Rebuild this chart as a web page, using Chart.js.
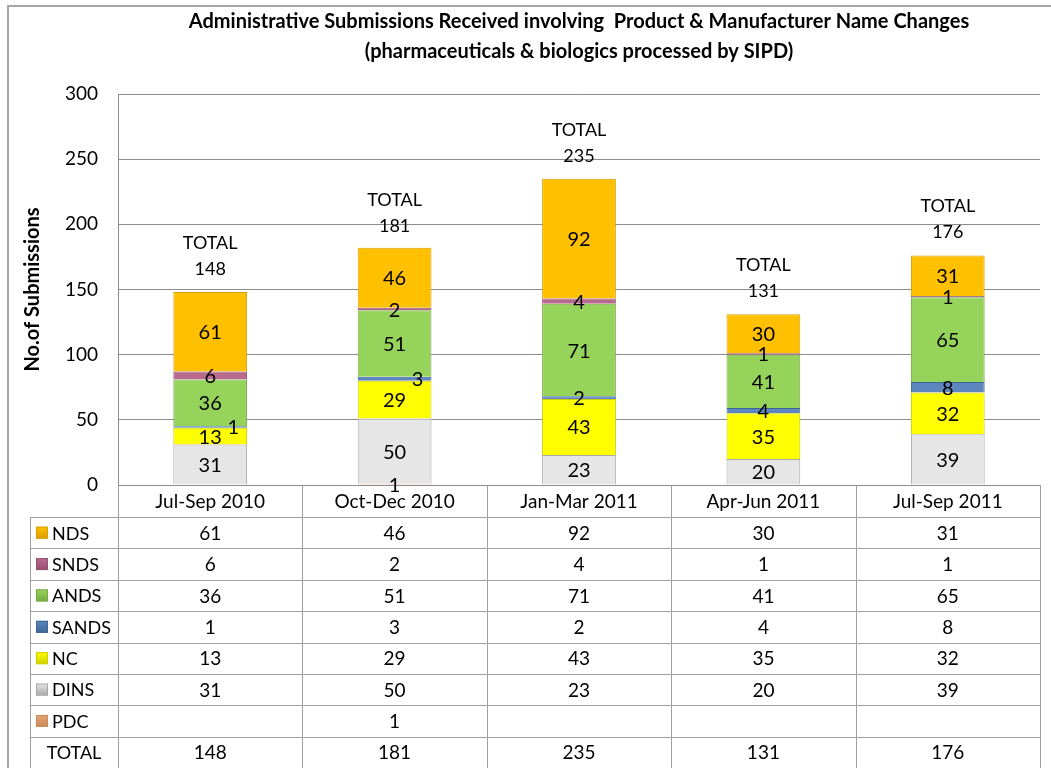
<!DOCTYPE html>
<html>
<head>
<meta charset="utf-8">
<script src="https://cdn.jsdelivr.net/npm/chart.js@4.4.1/dist/chart.umd.min.js"></script>
<style>
  html, body { margin: 0; padding: 0; background: #ffffff; }
  #wrap { width: 1051px; height: 768px; }
</style>
</head>
<body>
<div id="wrap"><canvas id="c" width="1051" height="768"></canvas></div>
<script>
// ---- data ----
const categories = ['Jul-Sep 2010', 'Oct-Dec 2010', 'Jan-Mar 2011', 'Apr-Jun 2011', 'Jul-Sep 2011'];
const pdc   = [null, 1, null, null, null];
const dins  = [31, 50, 23, 20, 39];
const nc    = [13, 29, 43, 35, 32];
const sands = [1, 3, 2, 4, 8];
const ands  = [36, 51, 71, 41, 65];
const snds  = [6, 2, 4, 1, 1];
const nds   = [61, 46, 92, 30, 31];
const totals = [148, 181, 235, 131, 176];
const yTickValues = [0, 50, 100, 150, 200, 250, 300];
const titleLines = ['Administrative Submissions Received involving  Product & Manufacturer Name Changes',
                    '(pharmaceuticals & biologics processed by SIPD)'];
const yTitle = 'No.of Submissions';

const FONT = 'Lato, "Open Sans", sans-serif';

// stacking order: bottom to top
const datasets = [
  { label: 'PDC',   data: pdc,   backgroundColor: '#E8A474', borderColor: '#C98A5C' },
  { label: 'DINS',  data: dins,  backgroundColor: '#E6E6E6', borderColor: '#A8A8A8' },
  { label: 'NC',    data: nc,    backgroundColor: '#FFFF00', borderColor: '#CFCF00' },
  { label: 'SANDS', data: sands, backgroundColor: '#5B87BE', borderColor: '#3E6696', labelDx: [23, 23, 0, 0, 0] },
  { label: 'ANDS',  data: ands,  backgroundColor: '#96D35A', borderColor: '#76AA42' },
  { label: 'SNDS',  data: snds,  backgroundColor: '#B8698C', borderColor: '#935070' },
  { label: 'NDS',   data: nds,   backgroundColor: '#FFC000', borderColor: '#D9A000' }
].map(d => Object.assign({ borderWidth: 1, barPercentage: 0.4, categoryPercentage: 1.0 }, d));

const outerBorder = {
  id: 'outerBorder',
  beforeDraw(chart) {
    const ctx = chart.ctx;
    ctx.save();
    ctx.fillStyle = '#ffffff';
    ctx.fillRect(0, 0, chart.width, chart.height);
    ctx.strokeStyle = '#A6A6A6';
    ctx.lineWidth = 2;
    ctx.strokeRect(8, 6, chart.width + 20, chart.height + 20);
    ctx.restore();
  }
};

const segmentLabels = {
  id: 'segmentLabels',
  afterDatasetsDraw(chart) {
    const ctx = chart.ctx;
    ctx.save();
    ctx.fillStyle = '#000';
    ctx.textAlign = 'center';
    ctx.textBaseline = 'middle';
    ctx.font = '20px ' + FONT;
    chart.data.datasets.forEach((ds, di) => {
      const meta = chart.getDatasetMeta(di);
      meta.data.forEach((bar, i) => {
        const v = ds.data[i];
        if (v === null || v === undefined) return;
        const dx = ds.labelDx ? ds.labelDx[i] : 0;
        ctx.fillText(String(v), bar.x + dx, (bar.y + bar.base) / 2 + 1);
      });
    });
    // totals above bars
    ctx.font = '18px ' + FONT;
    const xs = chart.scales.x, ys = chart.scales.y;
    totals.forEach((t, i) => {
      const px = xs.getPixelForValue(i);
      const py = ys.getPixelForValue(t);
      ctx.fillText(String(t), px, py - 23);
      ctx.fillText('TOTAL', px, py - 49);
    });
    ctx.restore();
  }
};

const dataTable = {
  id: 'dataTable',
  afterDraw(chart) {
    const ctx = chart.ctx;
    const xs = chart.scales.x;
    const area = chart.chartArea;
    const n = categories.length;
    const half = (xs.getPixelForValue(1) - xs.getPixelForValue(0)) / 2;
    const left = xs.getPixelForValue(0) - half;
    const right = xs.getPixelForValue(n - 1) + half;
    const legendLeft = 30;
    const headerBottom = area.bottom + 32;
    const bottom = chart.height;
    const rows = datasets.slice().reverse().map(d => ({ name: d.label, values: d.data, color: d.backgroundColor, border: d.borderColor }));
    rows.push({ name: 'TOTAL', values: totals, color: null });
    const rowH = (bottom - headerBottom) / rows.length;

    ctx.save();
    ctx.strokeStyle = '#A0A0A0';
    ctx.lineWidth = 1;
    for (let r = 0; r < rows.length; r++) {
      const y = Math.round(headerBottom + r * rowH) + 0.5;
      ctx.beginPath(); ctx.moveTo(legendLeft, y); ctx.lineTo(right, y); ctx.stroke();
    }
    ctx.beginPath();
    ctx.moveTo(legendLeft + 0.5, headerBottom); ctx.lineTo(legendLeft + 0.5, bottom);
    for (let k = 0; k <= n; k++) {
      const x = Math.round(left + k * 2 * half) + 0.5;
      ctx.moveTo(x, area.bottom); ctx.lineTo(x, bottom);
    }
    ctx.stroke();

    ctx.textBaseline = 'middle';
    rows.forEach((row, r) => {
      const cy = headerBottom + r * rowH + rowH / 2;
      if (row.color) {
        const g = ctx.createLinearGradient(0, cy - 6, 0, cy + 6);
        g.addColorStop(0, row.color);
        g.addColorStop(1, row.border);
        ctx.fillStyle = g;
        ctx.fillRect(36, cy - 6, 12, 12);
        ctx.strokeStyle = row.border;
        ctx.strokeRect(36.5, cy - 5.5, 11, 11);
        ctx.fillStyle = '#000';
        ctx.textAlign = 'left';
        ctx.font = '18px ' + FONT;
        ctx.fillText(row.name, 52, cy + 1);
      } else {
        ctx.fillStyle = '#000';
        ctx.textAlign = 'center';
        ctx.font = '18px ' + FONT;
        ctx.fillText(row.name, (legendLeft + left) / 2, cy + 1);
      }
      ctx.textAlign = 'center';
      ctx.font = '19px ' + FONT;
      row.values.forEach((v, i) => {
        if (v === null || v === undefined) return;
        ctx.fillText(String(v), xs.getPixelForValue(i), cy + 1);
      });
    });
    ctx.restore();
  }
};

new Chart(document.getElementById('c'), {
  type: 'bar',
  data: { labels: categories, datasets: datasets },
  options: {
    responsive: false,
    devicePixelRatio: 1,
    animation: false,
    layout: { padding: { left: 0, right: 11, top: 0, bottom: 0 } },
    plugins: {
      legend: { display: false },
      tooltip: { enabled: false },
      title: {
        display: true,
        fullSize: false,
        text: titleLines,
        color: '#000',
        font: { family: FONT, size: 20, weight: 'bold', lineHeight: '30px' },
        padding: { top: 7, bottom: 27 }
      }
    },
    scales: {
      x: {
        stacked: true,
        grid: { display: false, drawTicks: false },
        border: { display: true, color: '#8C8C8C', width: 1 },
        ticks: { color: '#000', font: { family: FONT, size: 19 }, padding: 5, maxRotation: 0 },
        afterFit(scale) { scale.height = 283; }
      },
      y: {
        stacked: true,
        min: 0,
        max: 300,
        afterBuildTicks(scale) { scale.ticks = yTickValues.map(v => ({ value: v })); },
        grid: { color: '#8C8C8C', drawTicks: false },
        border: { display: true, color: '#8C8C8C', width: 1 },
        ticks: { color: '#000', font: { family: FONT, size: 19 }, padding: 20 },
        title: {
          display: true,
          text: yTitle,
          color: '#000',
          font: { family: FONT, size: 20, weight: 'bold' },
          padding: { top: 21, bottom: 0 }
        },
        afterFit(scale) { scale.width = 118; }
      }
    }
  },
  plugins: [outerBorder, segmentLabels, dataTable]
});
</script>
</body>
</html>
